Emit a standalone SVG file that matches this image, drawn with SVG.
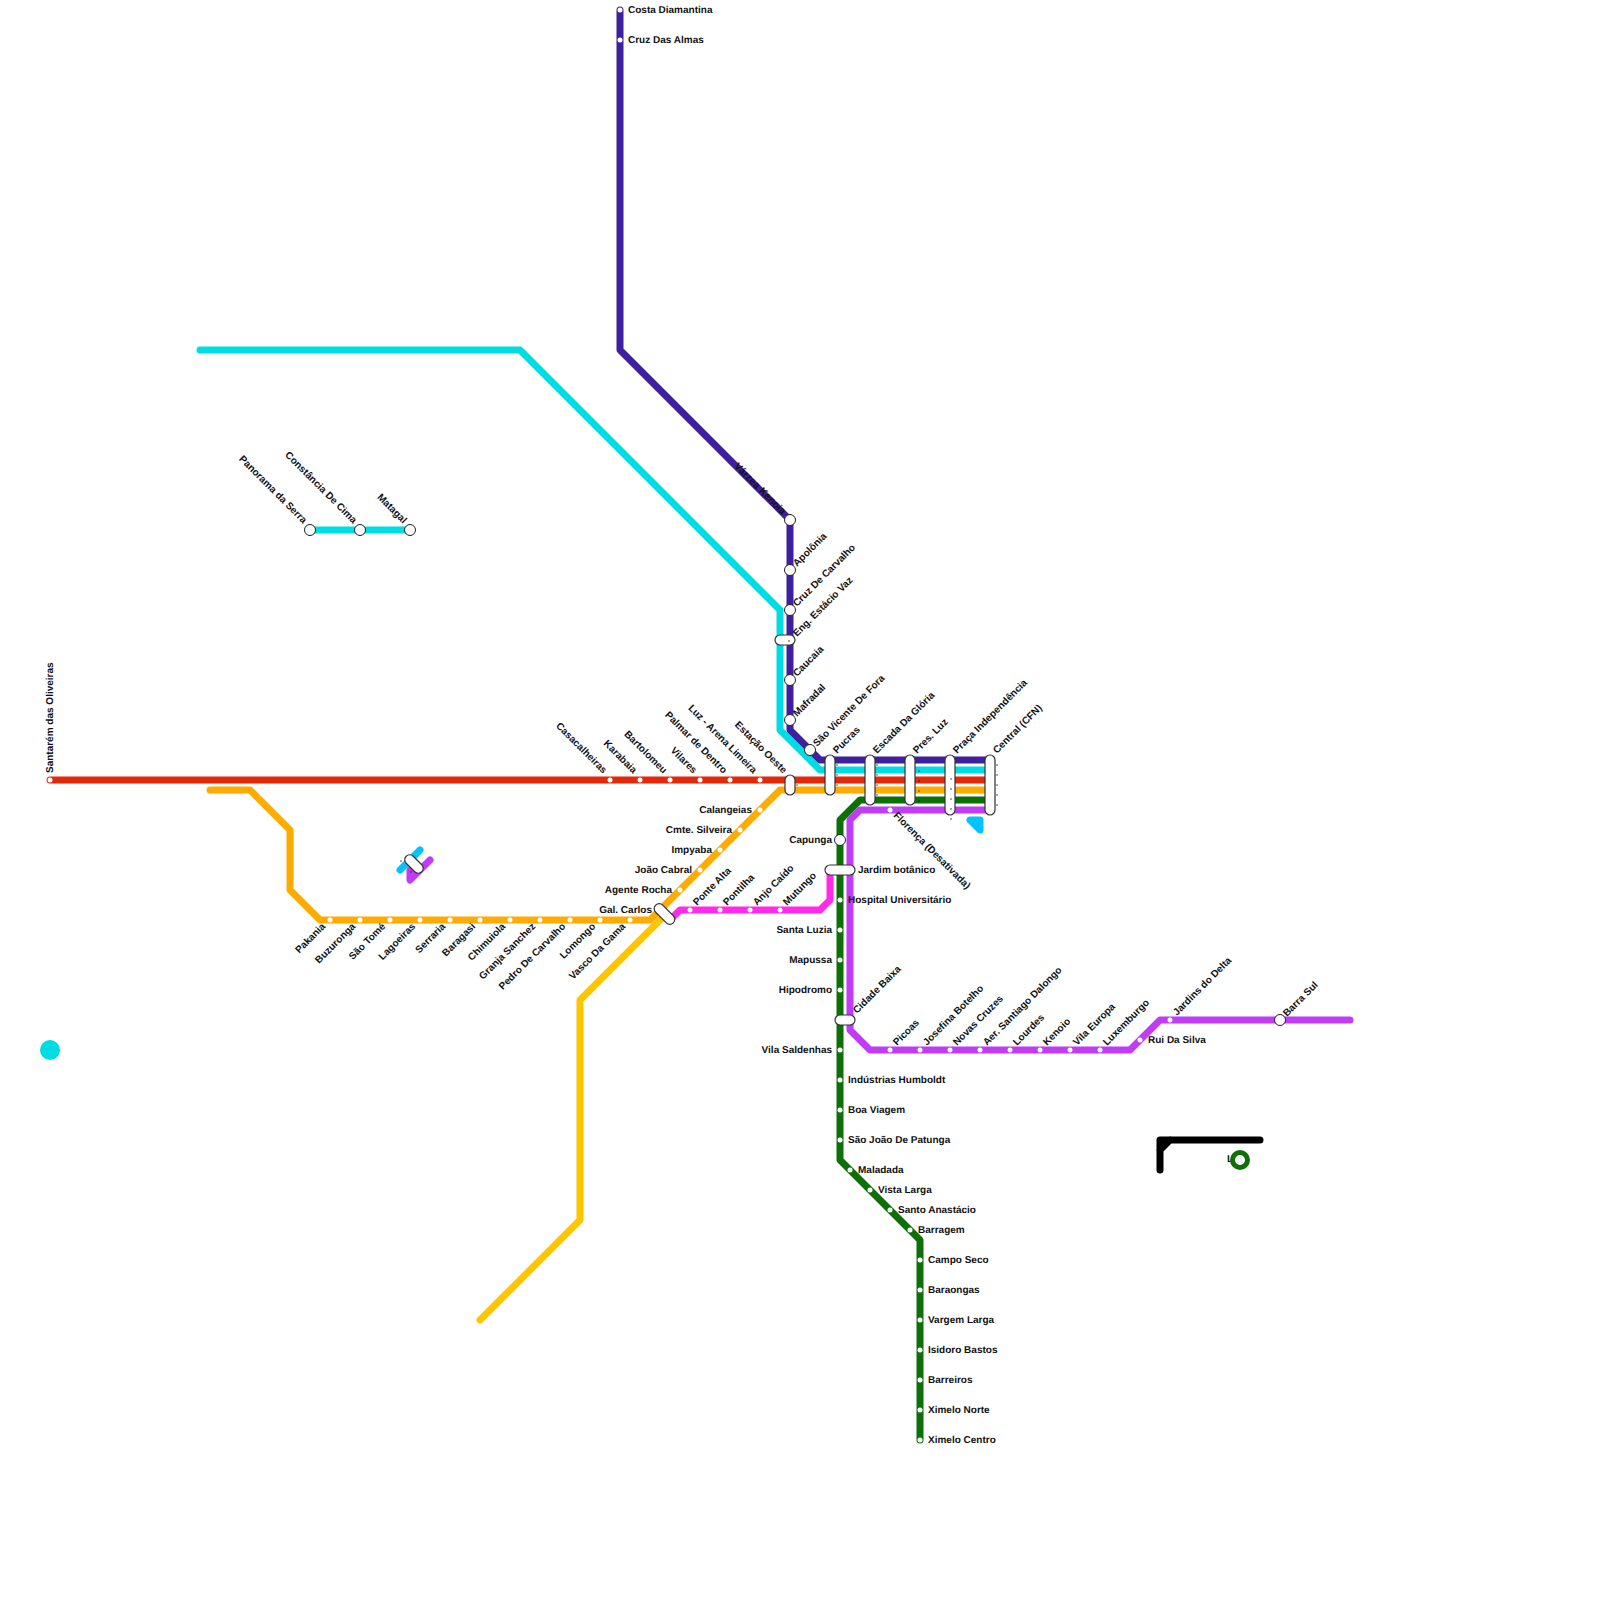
<svg xmlns="http://www.w3.org/2000/svg" width="1600" height="1600" viewBox="0 0 1600 1600">
<style>
.l{fill:none;stroke-width:7;stroke-linejoin:round;stroke-linecap:round}
.s{fill:#fff}
.b{fill:#fff;stroke:#222;stroke-width:1}
.p{fill:#fff;stroke:#333;stroke-width:1.2}
.d{fill:#111}
text{font-family:"Liberation Sans",Arial,sans-serif;font-size:10px;font-weight:bold;fill:#111;text-rendering:geometricPrecision}
.e{text-anchor:end}
</style>
<rect width="1600" height="1600" fill="#fff"/>
<g id="connectors">
<path class="l" stroke="#e3290a" d="M50 780H990"/>
<path class="l" stroke="#ffab00" d="M210 790H250L290 830V890L320 920H650L780 790H990"/>
<path class="l" stroke="#ffc600" d="M480 1320L580 1220V1000L665 915"/>
<path class="l" stroke="#00dce3" d="M200 350H520L780 610V730L820 770H990"/>
<path class="l" stroke="#00dce3" d="M310 530H410"/>
<path class="l" stroke="#3e1f9e" d="M620 10V350L790 520V730L820 760H990"/>
<path class="l" stroke="#ff2be8" d="M830 870V900L820 910H680L672 918"/>
<path class="l" stroke="#0d7006" d="M990 800H860L840 820V1160L920 1240V1440"/>
<path class="l" stroke="#c03cf5" d="M990 810H860L850 820V1030L870 1050H1130L1160 1020H1350"/>
<path class="l" stroke="#00c3ff" fill="#00c3ff" d="M970 820H980V830Z"/>
<path class="l" stroke="#00c3ff" d="M400 870L420 850"/>
<path class="l" stroke="#c03cf5" d="M430 860L410 880V870"/>
<path class="l" stroke="#000" d="M1160 1170V1140H1260M1160 1150L1170 1140"/>
</g>
<g id="n-dot"><circle cx="50" cy="1050" r="10" fill="#00dce3"/></g>
<g id="n-ring"><text x="1227" y="1162">L</text><circle cx="1240" cy="1160" r="7.5" fill="#fff" stroke="#0d7006" stroke-width="5"/></g>

<g id="red-stations">
<g id="santarem"><circle class="s" cx="50" cy="780" r="2.5"/><text transform="translate(53,773) rotate(-90)">Santarém das Oliveiras</text></g>
<g id="casacalheiras"><circle class="s" cx="610" cy="780" r="2.5"/><text class="e" transform="translate(603,774) rotate(45)">Casacalheiras</text></g>
<g id="karabaia"><circle class="s" cx="640" cy="780" r="2.5"/><text class="e" transform="translate(633,774) rotate(45)">Karabaia</text></g>
<g id="bartolomeu"><circle class="s" cx="670" cy="780" r="2.5"/><text class="e" transform="translate(663,774) rotate(45)">Bartolomeu</text></g>
<g id="vilares"><circle class="s" cx="700" cy="780" r="2.5"/><text class="e" transform="translate(693,774) rotate(45)">Vilares</text></g>
<g id="palmar"><circle class="s" cx="730" cy="780" r="2.5"/><text class="e" transform="translate(723,774) rotate(45)">Palmar de Dentro</text></g>
<g id="luz"><circle class="s" cx="760" cy="780" r="2.5"/><text class="e" transform="translate(753,774) rotate(45)">Luz - Arena Limeira</text></g>
<g id="estacao-oeste"><rect class="p" x="785" y="775" width="10" height="20" rx="5"/><circle class="d" cx="797" cy="785" r="0.7"/><text class="e" transform="translate(783,774) rotate(45)">Estação Oeste</text></g>
</g>

<g id="orange-stations">
<g id="calangeias"><circle class="s" cx="760" cy="810" r="2.5"/><text class="e" x="752" y="813">Calangeias</text></g>
<g id="cmte"><circle class="s" cx="740" cy="830" r="2.5"/><text class="e" x="732" y="833">Cmte. Silveira</text></g>
<g id="impyaba"><circle class="s" cx="720" cy="850" r="2.5"/><text class="e" x="712" y="853">Impyaba</text></g>
<g id="joao-cabral"><circle class="s" cx="700" cy="870" r="2.5"/><text class="e" x="692" y="873">João Cabral</text></g>
<g id="agente"><circle class="s" cx="680" cy="890" r="2.5"/><text class="e" x="672" y="893">Agente Rocha</text></g>
<g id="gal-carlos"><rect class="p" x="652" y="909" width="25" height="10" rx="5" transform="rotate(45 664.5 914)"/><text class="e" x="652" y="913">Gal. Carlos</text></g>
<g id="pakania"><circle class="s" cx="330" cy="920" r="2.5"/><text class="e" transform="translate(326,927) rotate(-45)">Pakania</text></g>
<g id="buzuronga"><circle class="s" cx="360" cy="920" r="2.5"/><text class="e" transform="translate(356,927) rotate(-45)">Buzuronga</text></g>
<g id="sao-tome"><circle class="s" cx="390" cy="920" r="2.5"/><text class="e" transform="translate(386,927) rotate(-45)">São Tomé</text></g>
<g id="lagoeiras"><circle class="s" cx="420" cy="920" r="2.5"/><text class="e" transform="translate(416,927) rotate(-45)">Lagoeiras</text></g>
<g id="serraria"><circle class="s" cx="450" cy="920" r="2.5"/><text class="e" transform="translate(446,927) rotate(-45)">Serraria</text></g>
<g id="baragasi"><circle class="s" cx="480" cy="920" r="2.5"/><text class="e" transform="translate(476,927) rotate(-45)">Baragasi</text></g>
<g id="chimuiola"><circle class="s" cx="510" cy="920" r="2.5"/><text class="e" transform="translate(506,927) rotate(-45)">Chimuiola</text></g>
<g id="granja"><circle class="s" cx="540" cy="920" r="2.5"/><text class="e" transform="translate(536,927) rotate(-45)">Granja Sanchez</text></g>
<g id="pedro"><circle class="s" cx="570" cy="920" r="2.5"/><text class="e" transform="translate(566,927) rotate(-45)">Pedro De Carvalho</text></g>
<g id="lomongo"><circle class="s" cx="600" cy="920" r="2.5"/><text class="e" transform="translate(596,927) rotate(-45)">Lomongo</text></g>
<g id="vasco"><circle class="s" cx="630" cy="920" r="2.5"/><text class="e" transform="translate(626,927) rotate(-45)">Vasco Da Gama</text></g>
</g>

<g id="pink-stations">
<g id="ponte-alta"><circle class="s" cx="690" cy="910" r="2.5"/><text transform="translate(697,906) rotate(-45)">Ponte Alta</text></g>
<g id="pontilha"><circle class="s" cx="720" cy="910" r="2.5"/><text transform="translate(727,906) rotate(-45)">Pontilha</text></g>
<g id="anjo"><circle class="s" cx="750" cy="910" r="2.5"/><text transform="translate(757,906) rotate(-45)">Anjo Caído</text></g>
<g id="mutungo"><circle class="s" cx="780" cy="910" r="2.5"/><text transform="translate(787,906) rotate(-45)">Mutungo</text></g>
</g>

<g id="cyan-stations">
<g id="panorama"><circle class="b" cx="310" cy="530" r="5.5"/><text class="e" transform="translate(303,524) rotate(45)">Panorama da Serra</text></g>
<g id="constancia"><circle class="b" cx="360" cy="530" r="5.5"/><text class="e" transform="translate(353,524) rotate(45)">Constância De Cima</text></g>
<g id="matagal"><circle class="b" cx="410" cy="530" r="5.5"/><text class="e" transform="translate(403,524) rotate(45)">Matagal</text></g>
<g id="mini"><rect class="p" x="403" y="859" width="22" height="10" rx="5" transform="rotate(45 414 864)"/><circle class="d" cx="401" cy="861" r="0.7"/><circle class="d" cx="411" cy="872" r="0.7"/></g>
</g>

<g id="purple-stations">
<g id="costa"><circle class="s" cx="620" cy="10" r="2.5"/><text x="628" y="13">Costa Diamantina</text></g>
<g id="cruz-almas"><circle class="s" cx="620" cy="40" r="2.5"/><text x="628" y="43">Cruz Das Almas</text></g>
<g id="varzea"><circle class="b" cx="790" cy="520" r="5.5"/><text class="e" transform="translate(782,515) rotate(45)">Várzea Kenoia</text></g>
<g id="apolonia"><circle class="b" cx="790" cy="570" r="5.5"/><text transform="translate(797,567) rotate(-45)">Apolônia</text></g>
<g id="cruz-carvalho"><circle class="b" cx="790" cy="610" r="5.5"/><text transform="translate(797,607) rotate(-45)">Cruz De Carvalho</text></g>
<g id="eng"><rect class="p" x="775" y="635" width="20" height="10" rx="5"/><circle class="d" cx="789" cy="641" r="0.7"/><text transform="translate(797,637) rotate(-45)">Eng. Estácio Vaz</text></g>
<g id="caucaia"><circle class="b" cx="790" cy="680" r="5.5"/><text transform="translate(797,677) rotate(-45)">Caucaia</text></g>
<g id="mafradal"><circle class="b" cx="790" cy="720" r="5.5"/><text transform="translate(797,717) rotate(-45)">Mafradal</text></g>
<g id="sao-vicente"><circle class="b" cx="810" cy="750" r="5.5"/><text transform="translate(817,747) rotate(-45)">São Vicente De Fora</text></g>
</g>

<g id="hubs">
<g id="pucras"><rect class="p" x="825" y="755" width="10" height="40" rx="5"/><circle class="d" cx="837" cy="765" r="0.7"/><circle class="d" cx="837" cy="775" r="0.7"/><circle class="d" cx="837" cy="785" r="0.7"/><text transform="translate(837,754) rotate(-45)">Pucras</text></g>
<g id="escada"><rect class="p" x="865" y="755" width="10" height="50" rx="5"/><circle class="d" cx="877" cy="765" r="0.7"/><circle class="d" cx="877" cy="775" r="0.7"/><circle class="d" cx="877" cy="785" r="0.7"/><circle class="d" cx="877" cy="795" r="0.7"/><text transform="translate(877,754) rotate(-45)">Escada Da Glória</text></g>
<g id="pres-luz"><rect class="p" x="905" y="755" width="10" height="50" rx="5"/><circle class="d" cx="919" cy="771" r="0.7"/><circle class="d" cx="919" cy="781" r="0.7"/><circle class="d" cx="919" cy="791" r="0.7"/><circle class="d" cx="919" cy="801" r="0.7"/><text transform="translate(917,754) rotate(-45)">Pres. Luz</text></g>
<g id="praca"><rect class="p" x="945" y="755" width="10" height="60" rx="5"/><circle class="d" cx="951" cy="779" r="0.7"/><circle class="d" cx="951" cy="789" r="0.7"/><circle class="d" cx="951" cy="799" r="0.7"/><circle class="d" cx="951" cy="809" r="0.7"/><circle class="d" cx="951" cy="819" r="0.7"/><text transform="translate(957,754) rotate(-45)">Praça Independência</text></g>
<g id="central"><rect class="p" x="985" y="755" width="10" height="60" rx="5"/><circle class="d" cx="997" cy="765" r="0.7"/><circle class="d" cx="997" cy="775" r="0.7"/><circle class="d" cx="997" cy="785" r="0.7"/><circle class="d" cx="997" cy="795" r="0.7"/><circle class="d" cx="997" cy="805" r="0.7"/><text transform="translate(997,754) rotate(-45)">Central (CFN)</text></g>
</g>

<g id="green-stations">
<g id="capunga"><circle class="b" cx="840" cy="840" r="5.5"/><text class="e" x="832" y="843">Capunga</text></g>
<g id="jardim"><rect class="p" x="825" y="865" width="30" height="10" rx="5"/><text x="858" y="873">Jardim botânico</text></g>
<g id="hospital"><circle class="s" cx="840" cy="900" r="2.5"/><text x="848" y="903">Hospital Universitário</text></g>
<g id="santa-luzia"><circle class="s" cx="840" cy="930" r="2.5"/><text class="e" x="832" y="933">Santa Luzia</text></g>
<g id="mapussa"><circle class="s" cx="840" cy="960" r="2.5"/><text class="e" x="832" y="963">Mapussa</text></g>
<g id="hipodromo"><circle class="s" cx="840" cy="990" r="2.5"/><text class="e" x="832" y="993">Hipodromo</text></g>
<g id="cidade-baixa"><rect class="p" x="835" y="1015" width="20" height="10" rx="5"/><text transform="translate(857,1014) rotate(-45)">Cidade Baixa</text></g>
<g id="vila-saldenhas"><circle class="s" cx="840" cy="1050" r="2.5"/><text class="e" x="832" y="1053">Vila Saldenhas</text></g>
<g id="industrias"><circle class="s" cx="840" cy="1080" r="2.5"/><text x="848" y="1083">Indústrias Humboldt</text></g>
<g id="boa-viagem"><circle class="s" cx="840" cy="1110" r="2.5"/><text x="848" y="1113">Boa Viagem</text></g>
<g id="sao-joao"><circle class="s" cx="840" cy="1140" r="2.5"/><text x="848" y="1143">São João De Patunga</text></g>
<g id="maladada"><circle class="s" cx="850" cy="1170" r="2.5"/><text x="858" y="1173">Maladada</text></g>
<g id="vista-larga"><circle class="s" cx="870" cy="1190" r="2.5"/><text x="878" y="1193">Vista Larga</text></g>
<g id="santo"><circle class="s" cx="890" cy="1210" r="2.5"/><text x="898" y="1213">Santo Anastácio</text></g>
<g id="barragem"><circle class="s" cx="910" cy="1230" r="2.5"/><text x="918" y="1233">Barragem</text></g>
<g id="campo-seco"><circle class="s" cx="920" cy="1260" r="2.5"/><text x="928" y="1263">Campo Seco</text></g>
<g id="baraongas"><circle class="s" cx="920" cy="1290" r="2.5"/><text x="928" y="1293">Baraongas</text></g>
<g id="vargem"><circle class="s" cx="920" cy="1320" r="2.5"/><text x="928" y="1323">Vargem Larga</text></g>
<g id="isidoro"><circle class="s" cx="920" cy="1350" r="2.5"/><text x="928" y="1353">Isidoro Bastos</text></g>
<g id="barreiros"><circle class="s" cx="920" cy="1380" r="2.5"/><text x="928" y="1383">Barreiros</text></g>
<g id="ximelo-norte"><circle class="s" cx="920" cy="1410" r="2.5"/><text x="928" y="1413">Ximelo Norte</text></g>
<g id="ximelo-centro"><circle class="s" cx="920" cy="1440" r="2.5"/><text x="928" y="1443">Ximelo Centro</text></g>
</g>

<g id="violet-stations">
<g id="florenca"><circle class="s" cx="890" cy="810" r="2.5"/><text transform="translate(893,816) rotate(45)">Florença (Desativada)</text></g>
<g id="picoas"><circle class="s" cx="890" cy="1050" r="2.5"/><text transform="translate(897,1046) rotate(-45)">Picoas</text></g>
<g id="josefina"><circle class="s" cx="920" cy="1050" r="2.5"/><text transform="translate(927,1046) rotate(-45)">Josefina Botelho</text></g>
<g id="novas"><circle class="s" cx="950" cy="1050" r="2.5"/><text transform="translate(957,1046) rotate(-45)">Novas Cruzes</text></g>
<g id="aer"><circle class="s" cx="980" cy="1050" r="2.5"/><text transform="translate(987,1046) rotate(-45)">Aer. Santiago Dalongo</text></g>
<g id="lourdes"><circle class="s" cx="1010" cy="1050" r="2.5"/><text transform="translate(1017,1046) rotate(-45)">Lourdes</text></g>
<g id="kenoio"><circle class="s" cx="1040" cy="1050" r="2.5"/><text transform="translate(1047,1046) rotate(-45)">Kenoio</text></g>
<g id="vila-europa"><circle class="s" cx="1070" cy="1050" r="2.5"/><text transform="translate(1077,1046) rotate(-45)">Vila Europa</text></g>
<g id="luxemburgo"><circle class="s" cx="1100" cy="1050" r="2.5"/><text transform="translate(1107,1046) rotate(-45)">Luxemburgo</text></g>
<g id="rui"><circle class="s" cx="1140" cy="1040" r="2.5"/><text x="1148" y="1043">Rui Da Silva</text></g>
<g id="jardins-delta"><circle class="s" cx="1170" cy="1020" r="2.5"/><text transform="translate(1177,1016) rotate(-45)">Jardins do Delta</text></g>
<g id="barra-sul"><circle class="b" cx="1280" cy="1020" r="5.5"/><text transform="translate(1287,1017) rotate(-45)">Barra Sul</text></g>
</g>
</svg>
